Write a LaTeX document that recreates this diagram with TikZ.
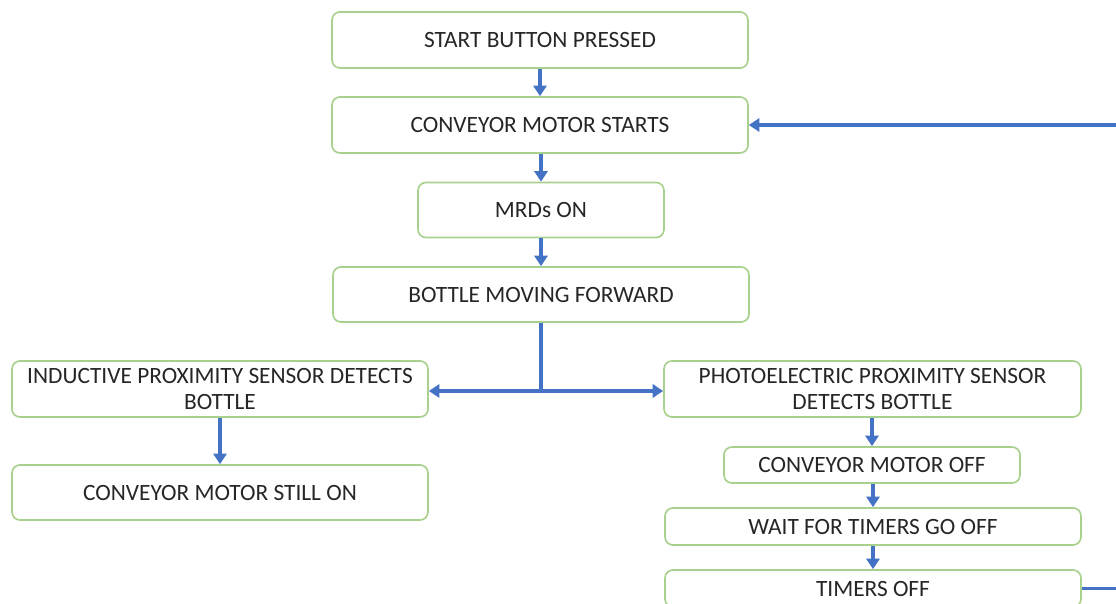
\documentclass[tikz,border=0pt]{standalone}
\usepackage{fontspec}
\setmainfont{Carlito}
\usetikzlibrary{arrows.meta}
\definecolor{boxgreen}{RGB}{169,209,142}
\definecolor{flowblue}{RGB}{68,114,196}
\definecolor{txt}{RGB}{38,38,38}
\tikzset{
  stepbox/.style={draw=boxgreen, line width=0.95pt, rounded corners=4.5pt, fill=white,
    text=txt, align=center, inner sep=1pt,
    font=\fontsize{13.3}{14.7}\selectfont},
  flow/.style={draw=flowblue, line width=1.9pt, -{Triangle[length=6pt,width=7.5pt]}},
  link/.style={draw=flowblue, line width=1.9pt},
}
\begin{document}
\begin{tikzpicture}[x=0.02cm,y=-0.02cm]
\useasboundingbox (0,0) rectangle (1116,604);
\clip (0,0) rectangle (1116,604);
\node[stepbox, minimum width=8.32cm, minimum height=1.12cm] (start) at (540,40) {START BUTTON PRESSED};
\node[stepbox, minimum width=8.32cm, minimum height=1.12cm] (motor) at (540,125) {CONVEYOR MOTOR STARTS};
\node[stepbox, minimum width=4.92cm, minimum height=1.10cm] (mrd) at (541,210) {MRDs ON};
\node[stepbox, minimum width=8.32cm, minimum height=1.10cm] (bottle) at (541,294.5) {BOTTLE MOVING FORWARD};
\node[stepbox, minimum width=8.32cm, minimum height=1.12cm] (induct) at (220,389) {INDUCTIVE PROXIMITY SENSOR DETECTS\\BOTTLE};
\node[stepbox, minimum width=8.32cm, minimum height=1.10cm] (still) at (220,492.5) {CONVEYOR MOTOR STILL ON};
\node[stepbox, minimum width=8.34cm, minimum height=1.12cm] (photo) at (872.5,389) {PHOTOELECTRIC PROXIMITY SENSOR\\DETECTS BOTTLE};
\node[stepbox, minimum width=5.92cm, minimum height=0.72cm] (off) at (872,465) {CONVEYOR MOTOR OFF};
\node[stepbox, minimum width=8.32cm, minimum height=0.74cm] (wait) at (873,526.5) {WAIT FOR TIMERS GO OFF};
\node[stepbox, minimum width=8.32cm, minimum height=0.74cm] (timers) at (873,588.5) {TIMERS OFF};

\coordinate (split) at (541,391);
\draw[flow] (start) -- (motor);
\draw[flow] (motor.south -| mrd) -- (mrd);
\draw[flow] (mrd) -- (bottle);
\draw[link] (bottle.south) -- (split);
\draw[flow] (split) -- (induct.east |- split);
\draw[flow] (split) -- (photo.west |- split);
\draw[flow] (induct) -- (still);
\draw[flow] (photo.south -| off) -- (off);
\draw[flow] (off.south -| wait) -- (wait);
\draw[flow] (wait) -- (timers);
% loop back from the timers to the conveyor motor, routed beyond the right edge
\coordinate (ret) at (1150,588.5);
\draw[flow] (timers.east) -- (ret) |- (motor.east);
\end{tikzpicture}
\end{document}
